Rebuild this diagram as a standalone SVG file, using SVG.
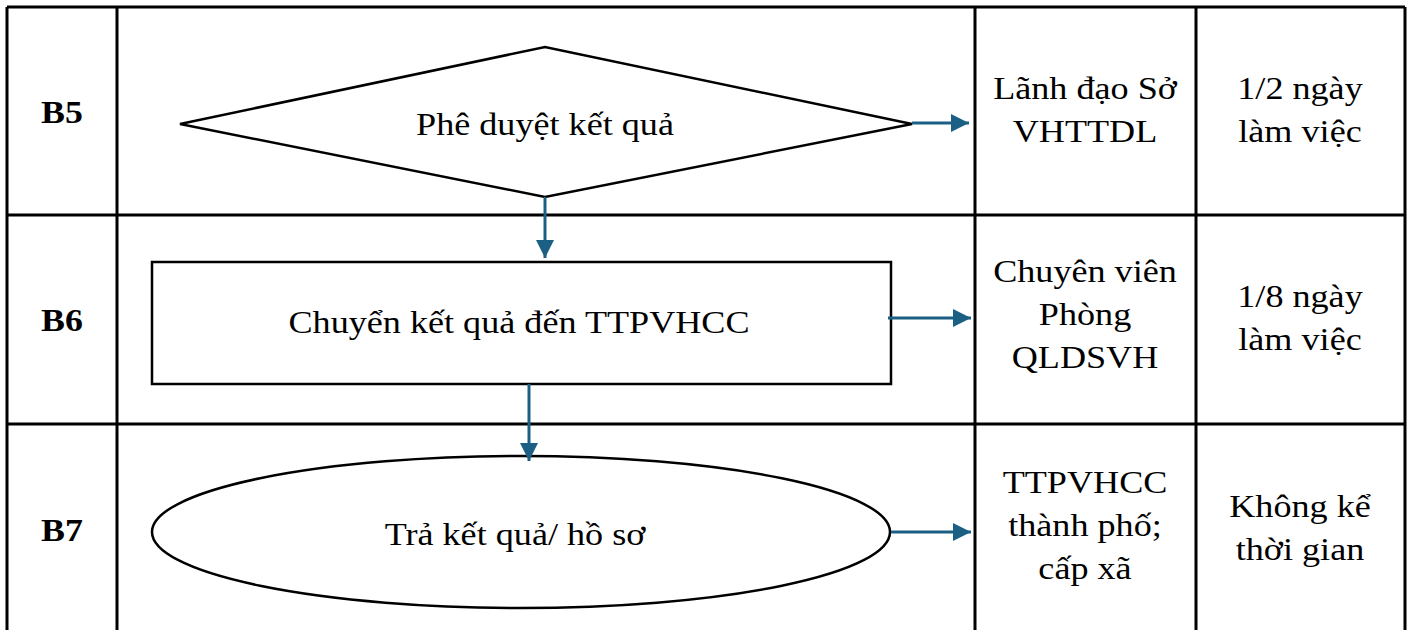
<svg xmlns="http://www.w3.org/2000/svg" width="1412" height="630" viewBox="0 0 1412 630">
<style>
.grid{stroke:#000;stroke-width:3;fill:none}
.shape{stroke:#000;stroke-width:2.5;fill:#fff}
.conn{stroke:#1b5f84;stroke-width:3;fill:none}
text{font-family:"Liberation Serif","Times New Roman",serif;font-size:32px;fill:#000;text-anchor:middle}
.b{font-weight:bold}
</style>
<defs>
<marker id="ah" viewBox="0 0 10 10" refX="10" refY="5" markerWidth="6" markerHeight="6" markerUnits="strokeWidth" orient="auto">
<path d="M0,0 L10,5 L0,10 z" fill="#1b5f84"/>
</marker>
</defs>
<rect width="1412" height="630" fill="#fff"/>
<g id="table">
<path class="grid" d="M7,7 H1405 M7,215 H1405 M7,424 H1405 M7,7 V630 M117,7 V630 M975,7 V630 M1196,7 V630 M1405,7 V630"/>
</g>
<g id="labels">
<text class="b" transform="translate(62,123) scale(1.12,1)">B5</text>
<text class="b" transform="translate(62,331) scale(1.12,1)">B6</text>
<text class="b" transform="translate(62,541) scale(1.12,1)">B7</text>
</g>
<g id="n5">
<polygon class="shape" points="180,124 545,47 912,124 545,197"/>
<text transform="translate(545,135) scale(1.13,1)">Phê duyệt kết quả</text>
</g>
<g id="n6">
<rect class="shape" x="152" y="262" width="739" height="122"/>
<text transform="translate(519,333) scale(1.13,1)">Chuyển kết quả đến TTPVHCC</text>
</g>
<g id="n7">
<ellipse class="shape" cx="521" cy="532" rx="369" ry="76"/>
<text transform="translate(515,545) scale(1.13,1)">Trả kết quả/ hồ sơ</text>
</g>
<g id="who">
<text transform="translate(1085,99) scale(1.13,1)">Lãnh đạo Sở</text>
<text transform="translate(1085,142) scale(1.13,1)">VHTTDL</text>
<text transform="translate(1085,282) scale(1.13,1)">Chuyên viên</text>
<text transform="translate(1085,325) scale(1.13,1)">Phòng</text>
<text transform="translate(1085,368) scale(1.13,1)">QLDSVH</text>
<text transform="translate(1085,493) scale(1.13,1)">TTPVHCC</text>
<text transform="translate(1085,536) scale(1.13,1)">thành phố;</text>
<text transform="translate(1085,579) scale(1.13,1)">cấp xã</text>
</g>
<g id="time">
<text transform="translate(1300,99) scale(1.13,1)">1/2 ngày</text>
<text transform="translate(1300,142) scale(1.13,1)">làm việc</text>
<text transform="translate(1300,307) scale(1.13,1)">1/8 ngày</text>
<text transform="translate(1300,350) scale(1.13,1)">làm việc</text>
<text transform="translate(1300,517) scale(1.13,1)">Không kể</text>
<text transform="translate(1300,560) scale(1.13,1)">thời gian</text>
</g>
<g id="connectors">
<line class="conn" x1="912" y1="123" x2="969" y2="123" marker-end="url(#ah)"/>
<line class="conn" x1="545" y1="197" x2="545" y2="258" marker-end="url(#ah)"/>
<line class="conn" x1="888" y1="318" x2="971" y2="318" marker-end="url(#ah)"/>
<line class="conn" x1="529" y1="384" x2="529" y2="461" marker-end="url(#ah)"/>
<line class="conn" x1="891" y1="532" x2="971" y2="532" marker-end="url(#ah)"/>
</g>
</svg>
